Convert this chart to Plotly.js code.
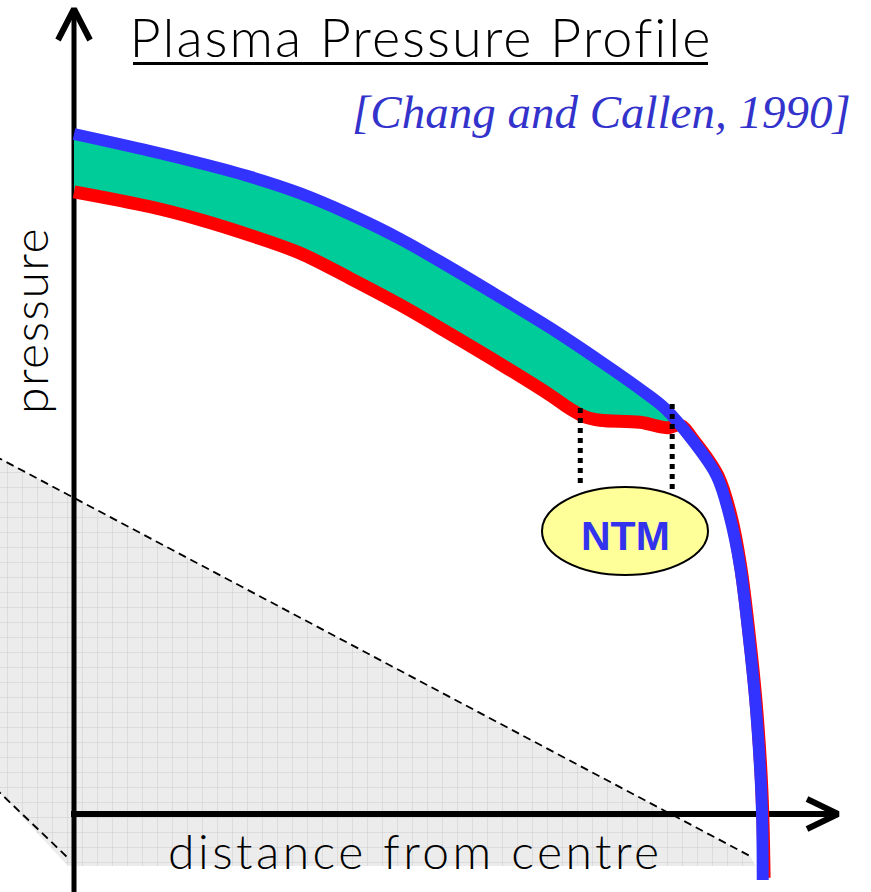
<!DOCTYPE html>
<html><head><meta charset="utf-8">
<script src="https://cdn.plot.ly/plotly-3.0.1.min.js"></script>
<style>html,body{margin:0;padding:0;background:#fff;overflow:hidden}#chart{width:871px;height:892px}</style>
</head><body><div id="chart"></div>
<script>
// ---- data (distance from centre: 0 = centre, 1 = edge; pressure normalised) ----
const distanceIdeal = [0, 0.111, 0.184, 0.257, 0.329, 0.402, 0.475, 0.548, 0.621, 0.694, 0.767, 0.825, 0.862, 0.902, 0.937, 0.956, 0.971, 0.983, 0.993, 1.000, 1.003, 1.004];
const pressureIdeal = [1.000, 0.975, 0.957, 0.937, 0.913, 0.882, 0.846, 0.804, 0.760, 0.715, 0.666, 0.625, 0.596, 0.549, 0.497, 0.437, 0.363, 0.266, 0.168, 0.069, 0.001, -0.097];
const distanceNTM = [0, 0.111, 0.184, 0.257, 0.329, 0.402, 0.475, 0.548, 0.621, 0.694, 0.723, 0.745, 0.767, 0.825, 0.866, 0.883, 0.904, 0.939, 0.958, 0.972, 0.984, 0.994, 1.001, 1.004, 1.006];
const pressureNTM = [0.915, 0.893, 0.874, 0.851, 0.825, 0.788, 0.749, 0.706, 0.662, 0.616, 0.596, 0.584, 0.579, 0.576, 0.568, 0.572, 0.549, 0.497, 0.437, 0.363, 0.266, 0.168, 0.069, 0.001, -0.094];
const islandEdges = [0.738, 0.872];          // NTM island boundaries (distance)
const islandTop = [0.597, 0.603];            // pressure at top of the dotted markers
const islandLabel = 'NTM';
const titleText = 'Plasma Pressure Profile';
const citeText = '[Chang and Callen, 1990]';
const xLabel = 'distance from centre';
const yLabel = 'pressure';

// ---- page geometry helpers (pixel -> data) ----
const W = 871, H = 892, X0 = 74, XS = 686, Y0 = 814, YS = 680;
const PX = p => (p - X0) / XS;
const PY = p => (Y0 - p) / YS;
const spaced = (t, s) => '<span style="letter-spacing:' + s + 'px">' + t + '</span>';

const traces = [];
// shaded background region
traces.push({x:[PX(-5), PX(750), PX(756), PX(68), PX(-5)], y:[PY(456), PY(856), PY(866), PY(866), PY(788)],
  mode:'lines', fill:'toself', fillcolor:'#ececec', line:{width:0},
  fillpattern:{shape:'+', size:15, solidity:0.07, fgcolor:'#cdcdcd', bgcolor:'#ececec'}, hoverinfo:'skip'});
traces.push({x:[PX(-5), PX(750)], y:[PY(456), PY(856)], mode:'lines', line:{color:'#000', width:1.8, dash:'8px,5px'}, hoverinfo:'skip'});
traces.push({x:[PX(-5), PX(67)], y:[PY(788), PY(857)], mode:'lines', line:{color:'#000', width:1.8, dash:'8px,5px'}, hoverinfo:'skip'});
// axes with open arrowheads
traces.push({x:[0, 0], y:[PY(900), PY(10)], mode:'lines', line:{color:'#000', width:5}, hoverinfo:'skip'});
traces.push({x:[PX(58), 0, PX(90)], y:[PY(40), PY(9), PY(40)], mode:'lines', line:{color:'#000', width:6}, hoverinfo:'skip'});
traces.push({x:[PX(71), PX(836)], y:[0, 0], mode:'lines', line:{color:'#000', width:6}, hoverinfo:'skip'});
traces.push({x:[PX(807), PX(838), PX(807)], y:[PY(799), PY(814), PY(829)], mode:'lines', line:{color:'#000', width:6}, hoverinfo:'skip'});
// green band between profiles
const cut = 0.87;
const bx = [], by = [];
distanceIdeal.forEach((d,i)=>{ if(d<=cut){bx.push(d); by.push(pressureIdeal[i]);} });
const rx = [], ry = [];
distanceNTM.forEach((d,i)=>{ if(d<=cut){rx.push(d); ry.push(pressureNTM[i]);} });
traces.push({x:bx.concat(rx.slice().reverse()), y:by.concat(ry.slice().reverse()), mode:'lines', fill:'toself',
  fillcolor:'#00cc99', line:{width:1, color:'#00cc99', shape:'spline', smoothing:1}, hoverinfo:'skip'});
// profiles
traces.push({x:distanceNTM, y:pressureNTM, mode:'lines', line:{color:'#ff0000', width:13, shape:'spline', smoothing:1}, hoverinfo:'skip'});
traces.push({x:distanceIdeal, y:pressureIdeal, mode:'lines', line:{color:'#3333ff', width:12, shape:'spline', smoothing:1}, hoverinfo:'skip'});
// island edge markers
islandEdges.forEach((e,i)=>{
  traces.push({x:[e, e], y:[islandTop[i], i===0 ? PY(487) : PY(493)], mode:'lines', line:{color:'#000', width:5, dash:'dot'}, hoverinfo:'skip'});
});

const font = 'Lato, "Open Sans", sans-serif';
const layout = {
  width: W, height: H, margin:{l:0, r:0, t:0, b:0}, showlegend:false,
  paper_bgcolor:'#fff', plot_bgcolor:'#fff',
  xaxis:{range:[PX(0), PX(W)], visible:false, fixedrange:true},
  yaxis:{range:[PY(H), PY(0)], visible:false, fixedrange:true},
  title:{text:spaced(titleText, 2), x:421/W, xanchor:'center', y:1-38/H, yanchor:'middle', yref:'container',
    font:{family:font, size:54, weight:300, color:'#000'}},
  shapes:[
    {type:'line', xref:'paper', yref:'paper', x0:133/W, x1:708/W, y0:1-63.5/H, y1:1-63.5/H, line:{color:'#000', width:3}},
    {type:'circle', xref:'x', yref:'y', x0:PX(542), x1:PX(708), y0:PY(575), y1:PY(487), fillcolor:'#ffff99', line:{color:'#000', width:2}}
  ],
  annotations:[
    {text:citeText, xref:'paper', yref:'paper', x:601/W, y:1-111.5/H, xanchor:'center', yanchor:'middle', showarrow:false,
      font:{family:'"Liberation Serif", "Times New Roman", serif', size:47, style:'italic', color:'#3333cc'}},
    {text:islandLabel, xref:'x', yref:'y', x:PX(625), y:PY(535.5), xanchor:'center', yanchor:'middle', showarrow:false,
      font:{family:'"Liberation Sans", Arial, sans-serif', size:41, weight:700, color:'#3333ee'}},
    {text:spaced(xLabel, 3.5), xref:'paper', yref:'paper', x:415/W, y:1-850/H, xanchor:'center', yanchor:'middle', showarrow:false,
      font:{family:font, size:48, weight:300, color:'#000'}},
    {text:spaced(yLabel, 1.5), xref:'paper', yref:'paper', x:29/W, y:1-321/H, xanchor:'center', yanchor:'middle', showarrow:false, textangle:-90,
      font:{family:font, size:48, weight:300, color:'#000'}}
  ]
};
Plotly.newPlot('chart', traces, layout, {staticPlot:true, displayModeBar:false});
</script></body></html>
